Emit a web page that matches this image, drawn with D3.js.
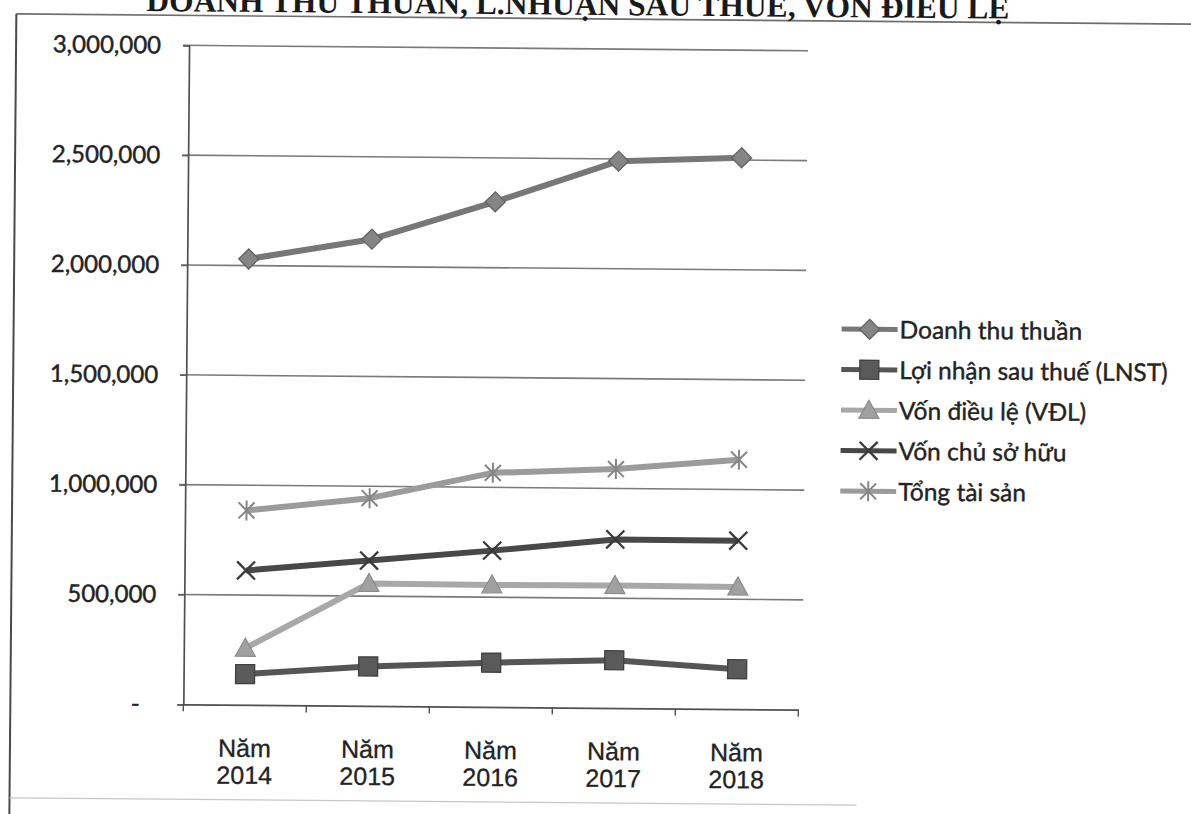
<!DOCTYPE html>
<html>
<head>
<meta charset="utf-8">
<script src="https://cdn.jsdelivr.net/npm/d3@7"></script>
<style>
  html, body { margin: 0; padding: 0; background: #ffffff; }
  svg { display: block; }
</style>
</head>
<body>
<svg id="chart" width="1191" height="814"></svg>
<script>
// ---- data ----
const categoryYears = ["2014", "2015", "2016", "2017", "2018"];
const categoryPrefix = "Năm";
const doanhThu = [2030000, 2125000, 2300000, 2490000, 2510000];
const loiNhuan = [140000, 180000, 202000, 218000, 182000];
const vonDieuLe = [258000, 558000, 556000, 558000, 556000];
const vonChuSoHuu = [612000, 662000, 712000, 768000, 767000];
const tongTaiSan = [885000, 946000, 1066000, 1088000, 1136000];
const yTicks = [0, 500000, 1000000, 1500000, 2000000, 2500000, 3000000];
const seriesNames = ["Doanh thu thuần", "Lợi nhận sau thuế (LNST)", "Vốn điều lệ (VĐL)", "Vốn chủ sở hữu", "Tổng tài sản"];
const titleText = "DOANH THU THUẦN, L.NHUẬN SAU THUẾ, VỐN ĐIỀU LỆ";

// ---- styles ----
const seriesStyle = [
  { values: doanhThu,    line: "#777777", fill: "#858585", stroke: "#636363", marker: "diamond" },
  { values: loiNhuan,    line: "#555555", fill: "#5a5a5a", stroke: "#404040", marker: "square" },
  { values: vonDieuLe,   line: "#a8a8a8", fill: "#a0a0a0", stroke: "#8c8c8c", marker: "triangle" },
  { values: vonChuSoHuu, line: "#484848", fill: "none",    stroke: "#3a3a3a", marker: "x" },
  { values: tongTaiSan,  line: "#9b9b9b", fill: "none",    stroke: "#868686", marker: "star" }
];
const textColor = "#232323";

const svg = d3.select("#chart");
svg.append("rect").attr("width", 1191).attr("height", 814).attr("fill", "#ffffff");

const g = svg.append("g").attr("transform", "rotate(0.5, 490, 400)");

// page frame from scanned document
g.append("line").attr("x1", 13).attr("x2", 1220).attr("y1", 18).attr("y2", 18)
  .attr("stroke", "#6e6e6e").attr("stroke-width", 1.6);
g.append("line").attr("x1", 13).attr("x2", 13).attr("y1", 18).attr("y2", 830)
  .attr("stroke", "#4a4a4a").attr("stroke-width", 2);
g.append("line").attr("x1", 13).attr("x2", 860).attr("y1", 802).attr("y2", 802)
  .attr("stroke", "#c8c8c8").attr("stroke-width", 1.2);

// title (clipped by top of page, as in the scan)
g.append("text").attr("x", 1006).attr("y", 14)
  .attr("text-anchor", "end")
  .attr("font-family", "'Liberation Serif', 'Times New Roman', serif")
  .attr("font-weight", "bold").attr("font-size", 31.5)
  .attr("fill", "#1a1a1a")
  .text(titleText);

// ---- scales ----
const plotLeft = 186, plotRight = 801, plotTop = 48, plotBottom = 707;
const x = d3.scaleBand().domain(categoryYears).range([plotLeft, plotRight]).padding(0);
const y = d3.scaleLinear().domain([0, 3000000]).range([plotBottom, plotTop]);
const cx = d => x(d) + x.bandwidth() / 2;

// gridlines
g.append("g").selectAll("line").data(yTicks.filter(t => t > 0)).join("line")
  .attr("x1", plotLeft - 6).attr("x2", plotRight + 4)
  .attr("y1", d => y(d)).attr("y2", d => y(d))
  .attr("stroke", "#7a7a7a").attr("stroke-width", 1.6);

// y axis
const yAxis = d3.axisLeft(y).tickValues(yTicks).tickSize(6).tickPadding(24)
  .tickFormat(d => d === 0 ? "-" : d3.format(",")(d));
const ya = g.append("g").attr("transform", `translate(${plotLeft},0)`).call(yAxis);
ya.select(".domain").attr("stroke", "#505050").attr("stroke-width", 1.7);
ya.selectAll(".tick line").attr("stroke", "#606060").attr("stroke-width", 1.4);
ya.selectAll(".tick text")
  .attr("font-family", "Lato, 'Noto Sans', sans-serif")
  .attr("font-size", 24).attr("fill", textColor)
  .attr("stroke", textColor).attr("stroke-width", 0.45)
  .attr("x", d => d === 0 ? -48 : -28)
  .attr("text-anchor", d => d === 0 ? "middle" : "end");

// x axis
const xAxis = d3.axisBottom(x).tickSize(0).tickFormat("");
const xa = g.append("g").attr("transform", `translate(0,${plotBottom})`).call(xAxis);
xa.select(".domain").attr("stroke", "#505050").attr("stroke-width", 1.7);
const boundaries = categoryYears.map(d => x(d) + x.bandwidth()).concat([plotLeft]);
xa.selectAll(".bnd").data(boundaries).join("line").attr("class", "bnd")
  .attr("x1", d => d).attr("x2", d => d).attr("y1", 0).attr("y2", 7)
  .attr("stroke", "#505050").attr("stroke-width", 1.4);
const xl = g.append("g");
categoryYears.forEach(yr => {
  const t = xl.append("text").attr("x", cx(yr)).attr("text-anchor", "middle")
    .attr("font-family", "'Liberation Sans', Arial, sans-serif")
    .attr("font-size", 25).attr("fill", textColor)
    .attr("stroke", textColor).attr("stroke-width", 0.3);
  t.append("tspan").attr("x", cx(yr)).attr("y", plotBottom + 52).text(categoryPrefix);
  t.append("tspan").attr("x", cx(yr)).attr("y", plotBottom + 79).text(yr);
});

// ---- markers ----
function drawMarker(sel, type, s) {
  if (type === "diamond") {
    sel.append("path").attr("d", "M0,-10L10,0L0,10L-10,0Z")
      .attr("fill", s.fill).attr("stroke", s.stroke).attr("stroke-width", 1.3);
  } else if (type === "square") {
    sel.append("rect").attr("x", -9.5).attr("y", -9.5).attr("width", 19).attr("height", 19)
      .attr("fill", s.fill).attr("stroke", s.stroke).attr("stroke-width", 1.3);
  } else if (type === "triangle") {
    sel.append("path").attr("d", "M0,-10L10,8L-10,8Z")
      .attr("fill", s.fill).attr("stroke", s.stroke).attr("stroke-width", 1.2);
  } else if (type === "x") {
    sel.append("path").attr("d", "M-9,-9L9,9M-9,9L9,-9")
      .attr("stroke", s.stroke).attr("stroke-width", 2.3).attr("fill", "none");
  } else if (type === "star") {
    sel.append("path").attr("d", "M-8,-8L8,8M-8,8L8,-8M0,-10L0,10")
      .attr("stroke", s.stroke).attr("stroke-width", 2).attr("fill", "none");
  }
}

// ---- series ----
const line = d3.line().x((d, i) => cx(categoryYears[i])).y(d => y(d));
seriesStyle.forEach(s => {
  g.append("path").datum(s.values).attr("d", line)
    .attr("fill", "none").attr("stroke", s.line).attr("stroke-width", 6)
    .attr("stroke-linejoin", "round");
  s.values.forEach((v, i) => {
    const m = g.append("g").attr("transform", `translate(${cx(categoryYears[i])},${y(v)})`);
    drawMarker(m, s.marker, s);
  });
});

// ---- legend ----
const legend = g.append("g");
const legendY = d3.scaleLinear().domain([0, 4]).range([326, 488]);
seriesStyle.forEach((s, i) => {
  const ly = legendY(i);
  legend.append("line").attr("x1", 841).attr("x2", 897).attr("y1", ly).attr("y2", ly)
    .attr("stroke", s.line).attr("stroke-width", 5);
  const m = legend.append("g").attr("transform", `translate(869,${ly})`);
  drawMarker(m, s.marker, s);
  legend.append("text").attr("x", 899).attr("y", ly).attr("dy", "0.36em")
    .attr("font-family", "Lato, 'Noto Sans', sans-serif")
    .attr("font-size", 24.5).attr("fill", textColor)
    .attr("stroke", textColor).attr("stroke-width", 0.4)
    .text(seriesNames[i]);
});
</script>
</body>
</html>
